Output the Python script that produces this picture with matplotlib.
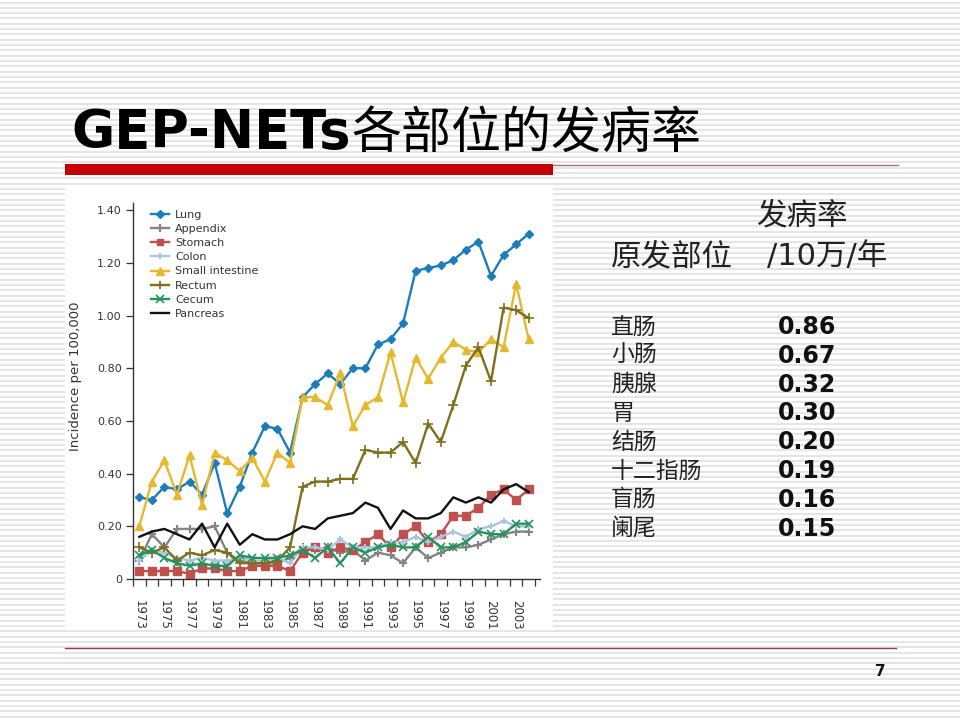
import numpy as np
import matplotlib
matplotlib.use("Agg")
import matplotlib.pyplot as plt
from matplotlib.patches import Rectangle
from matplotlib.transforms import IdentityTransform

# ---- data ----
years = list(range(1973, 2005))
series_names = ["Lung", "Appendix", "Stomach", "Colon", "Small intestine",
                "Rectum", "Cecum", "Pancreas"]

lung = [0.31, 0.30, 0.35, 0.34, 0.37, 0.32, 0.44, 0.25, 0.35, 0.48, 0.58, 0.57, 0.48,
        0.69, 0.74, 0.78, 0.74, 0.80, 0.80, 0.89, 0.91, 0.97, 1.17, 1.18, 1.19, 1.21,
        1.25, 1.28, 1.15, 1.23, 1.27, 1.31]
appendix = [0.07, 0.17, 0.12, 0.19, 0.19, 0.19, 0.20, 0.10, 0.07, 0.06, 0.06, 0.06, 0.08,
            0.12, 0.11, 0.12, 0.10, 0.11, 0.07, 0.10, 0.09, 0.06, 0.12, 0.08, 0.10, 0.12,
            0.12, 0.13, 0.15, 0.17, 0.18, 0.18]
stomach = [0.03, 0.03, 0.03, 0.03, 0.02, 0.04, 0.04, 0.03, 0.03, 0.05, 0.05, 0.05, 0.03,
           0.10, 0.12, 0.10, 0.12, 0.11, 0.14, 0.17, 0.12, 0.17, 0.20, 0.14, 0.17, 0.24,
           0.24, 0.27, 0.32, 0.34, 0.30, 0.34]
colon = [0.07, 0.11, 0.10, 0.08, 0.07, 0.08, 0.07, 0.07, 0.08, 0.07, 0.07, 0.08, 0.06,
         0.12, 0.12, 0.11, 0.15, 0.12, 0.12, 0.12, 0.14, 0.14, 0.16, 0.14, 0.16, 0.18,
         0.16, 0.19, 0.20, 0.22, 0.20, 0.20]
small_intestine = [0.20, 0.37, 0.45, 0.32, 0.47, 0.28, 0.48, 0.45, 0.41, 0.46, 0.37, 0.48, 0.44,
                   0.69, 0.69, 0.66, 0.78, 0.58, 0.66, 0.69, 0.86, 0.67, 0.84, 0.76, 0.84, 0.90,
                   0.87, 0.86, 0.91, 0.88, 1.12, 0.91]
rectum = [0.12, 0.10, 0.12, 0.07, 0.10, 0.09, 0.11, 0.10, 0.06, 0.06, 0.06, 0.07, 0.12,
          0.35, 0.37, 0.37, 0.38, 0.38, 0.49, 0.48, 0.48, 0.52, 0.44, 0.59, 0.52, 0.66,
          0.81, 0.88, 0.75, 1.03, 1.02, 0.99]
cecum = [0.09, 0.11, 0.08, 0.06, 0.05, 0.06, 0.05, 0.05, 0.09, 0.08, 0.08, 0.08, 0.09,
         0.11, 0.08, 0.12, 0.06, 0.12, 0.10, 0.12, 0.13, 0.12, 0.12, 0.16, 0.12, 0.12,
         0.14, 0.18, 0.17, 0.17, 0.21, 0.21]
pancreas = [0.16, 0.18, 0.19, 0.17, 0.15, 0.21, 0.12, 0.21, 0.13, 0.17, 0.15, 0.15, 0.17,
            0.20, 0.19, 0.23, 0.24, 0.25, 0.29, 0.27, 0.19, 0.26, 0.23, 0.23, 0.25, 0.31,
            0.29, 0.31, 0.29, 0.34, 0.36, 0.33]

ytick_vals = [0, 0.2, 0.4, 0.6, 0.8, 1.0, 1.2, 1.4]
ytick_labels = ["0", "0.20", "0.40", "0.60", "0.80", "1.00", "1.20", "1.40"]

sites = ["直肠", "小肠", "胰腺", "胃", "结肠", "十二指肠", "盲肠", "阑尾"]
rates = ["0.86", "0.67", "0.32", "0.30", "0.20", "0.19", "0.16", "0.15"]

title_latin = "GEP-NETs"
title_cjk = "各部位的发病率"

# ---- styles ----
styles = {
    "Lung": dict(color="#1b7db9", marker="D", ms=4.5),
    "Appendix": dict(color="#848484", marker="+", ms=6, mew=1.5),
    "Stomach": dict(color="#c0504d", marker="s", ms=5.5),
    "Colon": dict(color="#a9c3e0", marker="+", ms=5, mew=1.5),
    "Small intestine": dict(color="#e6b82e", marker="^", ms=6),
    "Rectum": dict(color="#7f6f1c", marker="+", ms=7, mew=1.2),
    "Cecum": dict(color="#24935c", marker="x", ms=6, mew=1.2),
    "Pancreas": dict(color="#111111", marker="None"),
}
data = dict(zip(series_names, [lung, appendix, stomach, colon, small_intestine,
                               rectum, cecum, pancreas]))

CJK = ["Noto Sans CJK SC", "DejaVu Sans"]
LAT_CJK = ["DejaVu Sans", "Noto Sans CJK SC"]

fig = plt.figure(figsize=(9.6, 7.2), dpi=100)
fig.patch.set_facecolor("white")

# background slide in pixel coordinates
bg = fig.add_axes([0, 0, 1, 1])
bg.set_xlim(0, 960)
bg.set_ylim(720, 0)
bg.axis("off")

for y in np.arange(2.5, 720, 5.33):
    bg.plot([0, 960], [y, y], color="#dedede", lw=1.1, solid_capstyle="butt")

bg.add_patch(Rectangle((65, 188), 488, 440, facecolor="white", edgecolor="none", zorder=2))
bg.add_patch(Rectangle((65, 164), 488, 11, facecolor="#c40000", edgecolor="none", zorder=3))
bg.plot([553, 898], [164.5, 164.5], color="#b07070", lw=1.0, zorder=3)
bg.plot([65, 896], [648, 648], color="#9a3c3c", lw=1.0, zorder=3)
bg.text(880, 671, "7", fontsize=11, fontweight="bold", ha="center", va="center",
        color="#111111")

# title: bold latin + regular CJK
t1 = bg.text(71, 148, title_latin, fontsize=38, fontweight="bold",
             family="DejaVu Sans", ha="left", va="baseline", color="black", zorder=4)
fig.canvas.draw()
bb = t1.get_window_extent(renderer=fig.canvas.get_renderer())
bg.text(bb.x1 + 1, 720 - 148, title_cjk, fontsize=36, family=CJK, ha="left",
        va="baseline", color="black", zorder=4, transform=IdentityTransform())

# right-hand table
bg.text(802, 216, "发病率", fontsize=22, family=CJK, ha="center", va="center", color="#222222")
bg.text(611, 257, "原发部位", fontsize=22, family=CJK, ha="left", va="center", color="#222222")
bg.text(767, 257, "/10万/年", fontsize=22, family=LAT_CJK, ha="left", va="center",
        color="#222222")
for i, (s, r) in enumerate(zip(sites, rates)):
    y = 327 + i * 28.8
    bg.text(611, y, s, fontsize=16.5, family=CJK, ha="left", va="center", color="#222222")
    bg.text(778, y, r, fontsize=17, fontweight="bold", family="DejaVu Sans",
            ha="left", va="center", color="#111111")

# ---- chart ----
ax = fig.add_axes([133 / 960, 1 - 579 / 720, (540 - 133) / 960, (579 - 203) / 720])
ax.set_facecolor("white")
for name in series_names:
    st = styles[name]
    ax.plot(years, data[name], label=name, lw=1.7, color=st["color"],
            marker=st["marker"], ms=st.get("ms", 5), mew=st.get("mew", 1),
            mec=st["color"], mfc=st["color"])

ax.set_xlim(1972.5, 2004.9)
ax.set_ylim(0, 1.427)
for side in ["top", "right"]:
    ax.spines[side].set_visible(False)
for side in ["left", "bottom"]:
    ax.spines[side].set_color("#333333")
    ax.spines[side].set_linewidth(1.0)

ax.set_yticks(ytick_vals)
ax.set_yticklabels(ytick_labels)
ax.tick_params(axis="y", length=5, width=0.9, color="#333333", labelsize=8,
               labelcolor="#333333", pad=3)

ax.set_xticks(years[::2])
ax.set_xticklabels([str(y) for y in years[::2]], rotation=-90)
ax.set_xticks(np.arange(1972.5, 2005, 1.0), minor=True)
ax.tick_params(axis="x", which="major", length=0, labelsize=8.5, labelcolor="#333333", pad=15)
ax.tick_params(axis="x", which="minor", length=5, width=0.9, color="#333333")

ax.set_ylabel("Incidence per 100,000", fontsize=9.5, color="#333333")
ax.yaxis.set_label_coords(-0.125, 0.54)

leg = ax.legend(loc="upper left", bbox_to_anchor=(145 / 960, 1 - 204 / 720),
                bbox_transform=fig.transFigure, frameon=False, fontsize=8,
                handlelength=1.7, handletextpad=0.5, labelspacing=0.38, borderpad=0,
                markerscale=0.9)
for txt in leg.get_texts():
    txt.set_color("#333333")

fig.savefig("out.png", dpi=100, facecolor="white")
